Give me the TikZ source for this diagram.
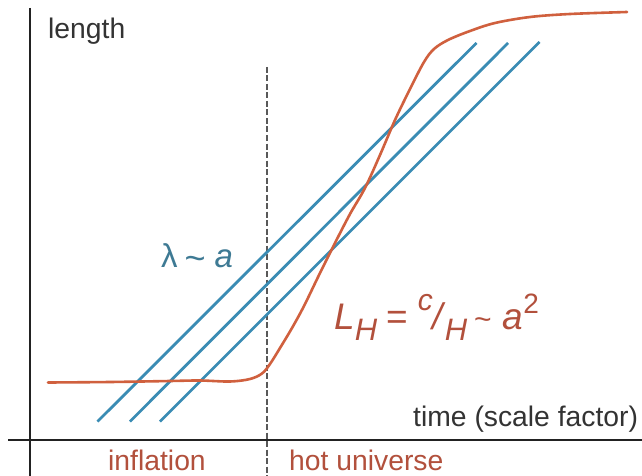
\documentclass[tikz,border=0pt]{standalone}
\usepackage{fontspec}
\setmainfont{Liberation Sans}
\definecolor{axisc}{HTML}{222222}
\definecolor{txtc}{HTML}{333333}
\definecolor{bluel}{HTML}{3A8CB4}
\definecolor{bluet}{HTML}{3E7A94}
\definecolor{orangec}{HTML}{D0603E}
\definecolor{redt}{HTML}{B2503C}
\begin{document}
\begin{tikzpicture}[x=1pt,y=-1pt,
  axis/.style={draw=axisc,line width=2.6pt},
  wave/.style={draw=bluel,line width=2.8pt},
  horizon/.style={draw=orangec,line width=2.6pt},
  divider/.style={draw=black!65,line width=1.2pt,dash pattern=on 6pt off 2.5pt},
  lbl/.style={inner sep=0pt,anchor=base west,text=txtc,font=\fontsize{28.3}{34}\selectfont},
  era/.style={inner sep=0pt,anchor=base west,text=redt,font=\fontsize{28.3}{34}\selectfont}]
\useasboundingbox (0,0) rectangle (642,476);
\fill[white] (0,0) rectangle (642,476);
% axes
\coordinate (ytop) at (30,8);
\coordinate (ybot) at (30,476);
\coordinate (xl) at (8,440);
\coordinate (xr) at (642,440);
\draw[axis] (ytop) -- (ybot);
\draw[axis] (xl) -- (xr);
% divider
\coordinate (dtop) at (267,67);
\coordinate (dbot) at (267,476);
\draw[divider] (dtop) -- (dbot);
% wavelengths
\coordinate (w1a) at (97.5,421.5); \coordinate (w1b) at (476.5,43);
\coordinate (w2a) at (130,421.5); \coordinate (w2b) at (508,43);
\coordinate (w3a) at (160,421.5); \coordinate (w3b) at (539.5,42);
\draw[wave] (w1a) -- (w1b);
\draw[wave] (w2a) -- (w2b);
\draw[wave] (w3a) -- (w3b);
% Hubble length
\draw[horizon,line cap=round] plot[smooth,tension=0.55] coordinates {
 (48,382.5) (110,382) (170,381) (200,380.5) (230,381.5) (250,379) (262,373.5) (270,364)
 (280,348) (292,328) (304,306) (320,273) (335,243) (350,214) (365,188) (380,155)
 (395,120) (410,89) (424,62) (434,49) (448,40) (470,31) (495,23) (530,17) (570,14) (627,12)};
% labels
\node[lbl] (ylab) at (48,39) {length};
\node[lbl] (xlab) at (413,426) {time (scale factor)};
\node[era] (infl) at (108,470) {inflation};
\node[era] (hot) at (289,470) {hot universe};
\node[inner sep=0pt,anchor=base west,text=bluet,font=\fontsize{33}{38}\selectfont] (lam) at (161,267) {λ\hspace{7pt}\raisebox{-3pt}{\fontsize{36}{38}\selectfont\char"7E}\hspace{9pt}\textit{a}};
\node[inner sep=0pt,anchor=base west,text=redt,font=\fontsize{37}{40}\selectfont] (lh) at (334,329)
 {\textit{L}\raisebox{-0.3em}{\fontsize{31}{34}\selectfont\textit{H}}\hspace{9pt}=\hspace{10pt}\raisebox{0.5em}{\fontsize{30}{34}\selectfont\textit{c}}\kern-0.02em\textit{/}\kern-0.02em\raisebox{-0.3em}{\fontsize{31}{34}\selectfont\textit{H}}\hspace{7pt}\raisebox{0pt}{\fontsize{30}{32}\selectfont\char"7E}\hspace{11pt}\textit{a}\raisebox{0.42em}{\fontsize{28}{30}\selectfont 2}};
\end{tikzpicture}
\end{document}
